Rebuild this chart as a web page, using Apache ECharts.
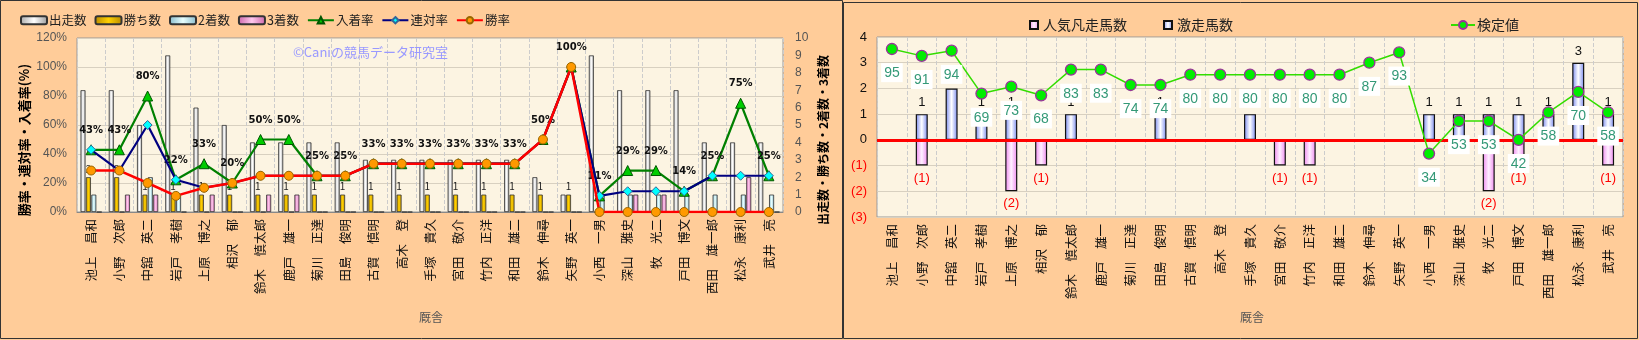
<!DOCTYPE html>
<html>
<head>
<meta charset="utf-8">
<script src="https://cdn.jsdelivr.net/npm/echarts@6/dist/echarts.min.js"></script>
<style>
html,body{margin:0;padding:0;background:#FFCC99;}
#c{width:1639px;height:340px;}
</style>
</head>
<body>
<div id="c"></div>
<script>
// ---- data ----
const trainers = ['池上　昌和','小野　次郎','中舘　英二','岩戸　孝樹','上原　博之','相沢　郁','鈴木　慎太郎','鹿戸　雄一','菊川　正達','田島　俊明','古賀　慎明','高木　登','手塚　貴久','宮田　敬介','竹内　正洋','和田　雄二','鈴木　伸尋','矢野　英一','小西　一男','深山　雅史','牧　光二','戸田　博文','西田　雄一郎','松永　康利','武井　亮'];
const starts  = [7,7,5,9,6,5,4,4,4,4,3,3,3,3,3,3,2,1,9,7,7,7,4,4,4];
const wins    = [2,2,1,1,1,1,1,1,1,1,1,1,1,1,1,1,1,1,0,0,0,0,0,0,0];
const seconds = [1,0,2,1,0,0,0,0,0,0,0,0,0,0,0,0,0,0,1,1,1,1,1,1,1];
const thirds  = [0,1,1,0,1,0,1,1,0,0,0,0,0,0,0,0,0,0,0,1,1,0,0,2,0];
const placeRate = [42.9,42.9,80,22.2,33.3,20,50,50,25,25,33.3,33.3,33.3,33.3,33.3,33.3,50,100,11.1,28.6,28.6,14.3,25,75,25];
const top2Rate  = [42.9,28.6,60,22.2,16.7,20,25,25,25,25,33.3,33.3,33.3,33.3,33.3,33.3,50,100,11.1,14.3,14.3,14.3,25,25,25];
const winRate   = [28.6,28.6,20,11.1,16.7,20,25,25,25,25,33.3,33.3,33.3,33.3,33.3,33.3,50,100,0,0,0,0,0,0,0];
const flopCount  = [0,-1,0,0,-2,-1,0,0,0,0,0,0,0,-1,-1,0,0,0,0,0,-2,-1,0,0,-1];
const surgeCount = [0,1,2,1,1,0,1,0,0,1,0,0,1,0,0,0,0,0,1,1,1,1,1,3,1];
const testValue  = [95,91,94,69,73,68,83,83,74,74,80,80,80,80,80,80,87,93,34,53,53,42,58,70,58];
const leftTicks  = [0,20,40,60,80,100,120];

const chart = echarts.init(document.getElementById('c'));
const JP = '"Noto Sans CJK JP", "Noto Sans", sans-serif';
function hGrad(a,b,c){return new echarts.graphic.LinearGradient(0,0,1,0,[{offset:0,color:a},{offset:0.5,color:b},{offset:1,color:c}]);}

const catAxisCommon = {
  type:'category', data:trainers,
  axisLine:{lineStyle:{color:'#888'}},
  axisTick:{show:false},
  axisLabel:{rotate:90, interval:0, margin:7, color:'#111', fontSize:12.5, fontFamily:JP},
  splitLine:{show:true, lineStyle:{color:'#ccc', type:'dashed', width:1}}
};

const option = {
  backgroundColor:'#FFCC99',
  animation:false,
  textStyle:{fontFamily:JP},
  graphic:[
    {type:'rect', shape:{x:0.5,y:0.5,width:842,height:338}, style:{fill:'none', stroke:'#333', lineWidth:1}, z:100},
    {type:'rect', shape:{x:843.5,y:2.5,width:794,height:336}, style:{fill:'none', stroke:'#333', lineWidth:1}, z:100},
    {type:'text', x:293, y:52, style:{text:'©Caniの競馬データ研究室', fill:'#9999FF', font:'13px '+JP, verticalAlign:'middle'}, z:50},
    {type:'text', x:24, y:140, rotation:Math.PI/2, style:{text:'勝率・連対率・入着率(%)', fill:'#000', font:'bold 13px '+JP, align:'center', verticalAlign:'middle'}, z:50},
    {type:'text', x:823, y:140, rotation:Math.PI/2, style:{text:'出走数・勝ち数・2着数・3着数', fill:'#000', font:'bold 12px '+JP, align:'center', verticalAlign:'middle'}, z:50},
    {type:'text', x:431, y:317, style:{text:'厩舎', fill:'#555', font:'12px '+JP, align:'center', verticalAlign:'middle'}, z:50},
    {type:'text', x:1252, y:317, style:{text:'厩舎', fill:'#555', font:'12px '+JP, align:'center', verticalAlign:'middle'}, z:50}
  ],
  legend:[
    {left:15, top:9, itemWidth:26, itemHeight:8, itemGap:8, textStyle:{fontSize:12.5, color:'#222', padding:[0,0,0,-3]},
     data:[{name:'出走数',icon:'roundRect'},{name:'勝ち数',icon:'roundRect'},{name:'2着数',icon:'roundRect'},{name:'3着数',icon:'roundRect'},'入着率','連対率','勝率']},
    {left:1024, top:13, itemWidth:8, itemHeight:8, itemGap:36, textStyle:{fontSize:14, color:'#222'},
     data:[{name:'人気凡走馬数',icon:'rect'},{name:'激走馬数',icon:'rect'}]},
    {left:1445, top:13, itemWidth:24, itemHeight:10, textStyle:{fontSize:14, color:'#222', padding:[0,0,0,-3]}, data:['検定値']}
  ],
  grid:[
    {left:77, top:38, width:706, height:174, show:true, backgroundColor:'#FCF4E2', borderColor:'#999', borderWidth:1},
    {left:877, top:37, width:746, height:180, show:true, backgroundColor:'#FCF4E2', borderColor:'#999', borderWidth:1}
  ],
  xAxis:[
    Object.assign({gridIndex:0}, catAxisCommon),
    Object.assign({gridIndex:1}, catAxisCommon)
  ],
  yAxis:[
    {gridIndex:0, type:'value', min:leftTicks[0], max:leftTicks[leftTicks.length-1], interval:20,
     axisLabel:{formatter:'{value}%', color:'#555', fontSize:12, margin:10, fontFamily:'"Liberation Sans", sans-serif'},
     axisLine:{show:false}, axisTick:{show:false}, splitLine:{lineStyle:{color:'#d8d0c0'}}},
    {gridIndex:0, type:'value', position:'right', min:0, max:10, interval:1,
     axisLabel:{color:'#555', fontSize:12, margin:12, fontFamily:'"Liberation Sans", sans-serif'},
     axisLine:{show:false}, axisTick:{show:false}, splitLine:{show:false}},
    {gridIndex:1, type:'value', min:-3, max:4, interval:1,
     axisLabel:{margin:10, fontSize:13, color:'#111', fontFamily:'"Liberation Sans", sans-serif',
       formatter:function(v){return v<0 ? '{n|('+(-v)+')}' : String(v);},
       rich:{n:{color:'#FF0000', fontSize:13, fontFamily:'"Liberation Sans", sans-serif'}}},
     axisLine:{show:false}, axisTick:{show:false}, splitLine:{lineStyle:{color:'#d8d0c0'}}},
    {gridIndex:1, type:'value', min:-3, max:102, show:false, splitLine:{show:false}}
  ],
  series:[
    {name:'出走数', type:'bar', xAxisIndex:0, yAxisIndex:1, data:starts, barWidth:5, barGap:'8%', barCategoryGap:'20%',
     itemStyle:{color:hGrad('#AAAAAA','#FFFFFF','#999999'), borderColor:'#333', borderWidth:0.8}},
    {name:'勝ち数', type:'bar', xAxisIndex:0, yAxisIndex:1, data:wins, barWidth:5, barGap:'8%',
     itemStyle:{color:hGrad('#B88A00','#FFD000','#B88A00'), borderColor:'#333', borderWidth:0.8},
     label:{show:true, position:'top', distance:3, fontSize:10, color:'#222', formatter:function(p){return p.value? p.value : '';}}},
    {name:'2着数', type:'bar', xAxisIndex:0, yAxisIndex:1, data:seconds, barWidth:5, barGap:'8%',
     itemStyle:{color:hGrad('#88BBCC','#E8FFFF','#88BBCC'), borderColor:'#333', borderWidth:0.8}},
    {name:'3着数', type:'bar', xAxisIndex:0, yAxisIndex:1, data:thirds, barWidth:5, barGap:'8%',
     itemStyle:{color:hGrad('#CC66AA','#FFC8EE','#CC66AA'), borderColor:'#333', borderWidth:0.8}},
    {name:'入着率', type:'line', xAxisIndex:0, yAxisIndex:0, data:placeRate, symbol:'triangle', symbolSize:10, z:3,
     lineStyle:{color:'#008000', width:2.2}, itemStyle:{color:'#00CC00', borderColor:'#005500', borderWidth:1},
     label:{show:true, position:'top', distance:9, fontSize:10, fontWeight:'bold', color:'#111', fontFamily:'"DejaVu Sans", sans-serif',
       formatter:function(p){return Math.round(p.value)+'%';}}},
    {name:'連対率', type:'line', xAxisIndex:0, yAxisIndex:0, data:top2Rate, symbol:'diamond', symbolSize:9, z:4,
     lineStyle:{color:'#000080', width:2.2}, itemStyle:{color:'#00FFFF', borderColor:'#336699', borderWidth:1}},
    {name:'勝率', type:'line', xAxisIndex:0, yAxisIndex:0, data:winRate, symbol:'circle', symbolSize:9, z:5,
     lineStyle:{color:'#FF0000', width:2.5}, itemStyle:{color:'#FF9900', borderColor:'#996600', borderWidth:1}},

    {name:'人気凡走馬数', type:'bar', xAxisIndex:1, yAxisIndex:2, data:flopCount, barWidth:12,
     itemStyle:{color:hGrad('#EE88EE','#FFF0FF','#EE88EE'), borderColor:'#111', borderWidth:1.2},
     label:{show:true, position:'bottom', distance:6, fontSize:13, color:'#FF0000', fontFamily:'"Liberation Sans", sans-serif',
       formatter:function(p){return p.value ? '('+(-p.value)+')' : '';}},
     markLine:{silent:true, symbol:'none', label:{show:false}, lineStyle:{color:'#FF0000', width:3, type:'solid'}, data:[{yAxis:0}]}},
    {name:'激走馬数', type:'bar', xAxisIndex:1, yAxisIndex:2, data:surgeCount, barWidth:12, barGap:'-100%',
     itemStyle:{color:hGrad('#7788EE','#FFFFFF','#7788EE'), borderColor:'#111', borderWidth:1.2},
     label:{show:true, position:'top', distance:5, fontSize:13, color:'#111', fontFamily:'"Liberation Sans", sans-serif',
       formatter:function(p){return p.value ? p.value : '';}}},
    {name:'検定値', type:'line', xAxisIndex:1, yAxisIndex:3, data:testValue, symbol:'circle', symbolSize:11, z:10,
     lineStyle:{color:'#33DD00', width:1.5}, itemStyle:{color:'#00EE00', borderColor:'#993399', borderWidth:1.3},
     label:{show:true, position:'bottom', distance:8, fontSize:14, color:'#339977', backgroundColor:'#FFFFFF', padding:[3,3,2,3],
       fontFamily:'"Liberation Sans", sans-serif'}}
  ]
};
chart.setOption(option);
</script>
</body>
</html>
